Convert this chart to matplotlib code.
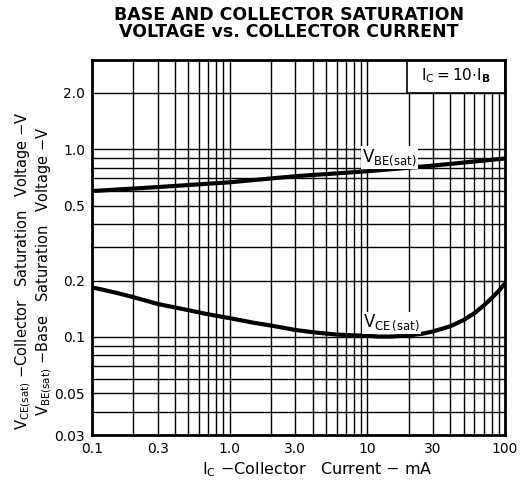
import matplotlib

matplotlib.use("Agg")

import matplotlib.pyplot as plt
from matplotlib.patches import Rectangle
from matplotlib.ticker import FixedLocator, NullLocator

# collector current, mA
ic_vbe = [0.1, 0.3, 1.0, 3.0, 10, 30, 100]
vbe_sat = [0.60, 0.63, 0.668, 0.72, 0.765, 0.82, 0.895]

ic_vce = [0.1, 0.15, 0.2, 0.3, 0.5, 0.7, 1.0, 1.5, 2.0, 3.0, 4.0, 6.0, 8.0, 10, 12, 15,
          20, 25, 30, 40, 50, 60, 70, 80, 90, 100]
vce_sat = [0.184, 0.172, 0.163, 0.150, 0.139, 0.132, 0.126, 0.119, 0.115, 0.109, 0.106,
           0.103, 0.102, 0.1015, 0.1005, 0.1005, 0.102, 0.104, 0.107, 0.114, 0.123,
           0.134, 0.147, 0.161, 0.176, 0.193]

x_ticks = [0.1, 0.3, 1.0, 3.0, 10, 30, 100]
x_labels = ["0.1", "0.3", "1.0", "3.0", "10", "30", "100"]
y_ticks = [0.03, 0.05, 0.1, 0.2, 0.5, 1.0, 2.0]
y_labels = ["0.03", "0.05", "0.1", "0.2", "0.5", "1.0", "2.0"]

x_grid = [m * d for d in (0.1, 1, 10) for m in range(1, 10)] + [100]
y_grid = [m * 0.01 for m in range(3, 10)] + [m * 0.1 for m in range(1, 10)] + [1.0, 2.0, 3.0]

plt.rcParams["font.family"] = ["DejaVu Sans"]
plt.rcParams["mathtext.fontset"] = "dejavusans"

fig = plt.figure(figsize=(5.21, 4.90), dpi=100)
ax = fig.add_axes([0.1766, 0.1122, 0.7926, 0.7654])
ax.set_xscale("log")
ax.set_yscale("log")
ax.set_xlim(0.1, 100)
ax.set_ylim(0.03, 3.0)

for xv in x_grid:
    ax.axvline(xv, color="black", lw=1.0, zorder=1)
for yv in y_grid:
    ax.axhline(yv, color="black", lw=1.0, zorder=1)

ax.plot(ic_vbe, vbe_sat, color="black", lw=3.0, zorder=3, solid_capstyle="butt")
ax.plot(ic_vce, vce_sat, color="black", lw=3.0, zorder=3, solid_capstyle="butt")

ax.text(14.5, 0.905, r"V$_{\rm BE(sat)}$", fontsize=12, ha="center", va="center", zorder=4,
        bbox=dict(boxstyle="square,pad=0.05", fc="white", ec="none"))
ax.text(15, 0.119, r"V$_{\rm CE\,(sat)}$", fontsize=12, ha="center", va="center", zorder=4,
        bbox=dict(boxstyle="square,pad=0.05", fc="white", ec="none"))

ax.add_patch(Rectangle((0.763, 0.912), 0.237, 0.088, transform=ax.transAxes,
                       fc="white", ec="black", lw=1.2, zorder=5))
ax.text(0.88, 0.957, r"I$_{\rm C}$$=$10$\cdot$I$_{\bf B}$", transform=ax.transAxes,
        fontsize=11, ha="center", va="center", zorder=6)

ax.xaxis.set_major_locator(FixedLocator(x_ticks))
ax.xaxis.set_minor_locator(NullLocator())
ax.set_xticklabels(x_labels)
ax.yaxis.set_major_locator(FixedLocator(y_ticks))
ax.yaxis.set_minor_locator(NullLocator())
ax.set_yticklabels(y_labels)
ax.tick_params(length=0, labelsize=10, pad=5)

for sp in ax.spines.values():
    sp.set_linewidth(2.0)
    sp.set_zorder(7)

fig.text(0.61, 0.041, r"I$_{\rm C}$ $-$Collector   Current $-$ mA", fontsize=11.5,
         ha="center", va="center")
fig.text(0.045, 0.447, r"V$_{\rm CE(sat)}$ $-$Collector   Saturation   Voltage $-$V",
         rotation=90, fontsize=10.5, ha="center", va="center")
fig.text(0.085, 0.447, r"V$_{\rm BE(sat)}$ $-$Base   Saturation   Voltage $-$V",
         rotation=90, fontsize=10.5, ha="center", va="center")

fig.text(0.555, 0.969, "BASE AND COLLECTOR SATURATION", fontsize=12.5,
         fontweight="bold", ha="center", va="center")
fig.text(0.555, 0.935, "VOLTAGE vs. COLLECTOR CURRENT", fontsize=12.5,
         fontweight="bold", ha="center", va="center")

fig.savefig("out.png", dpi=100, facecolor="white")
